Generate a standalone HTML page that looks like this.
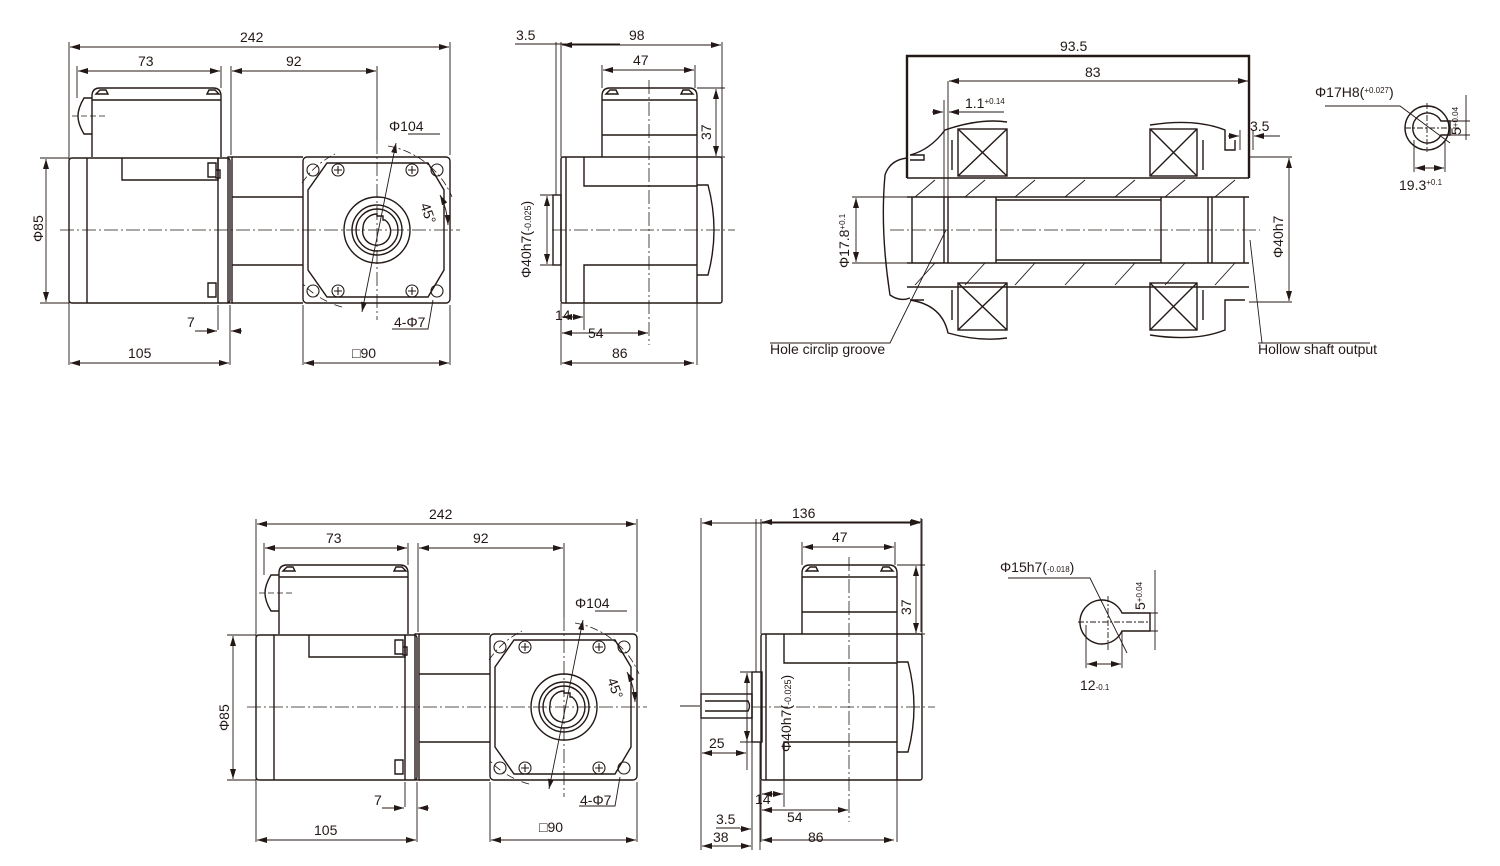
<!DOCTYPE html>
<html><head><meta charset="utf-8"><style>
html,body{margin:0;padding:0;background:#fff;}
svg{display:block;font-family:"Liberation Sans",sans-serif;}
text{font-size:14px;fill:#231815;}
</style></head><body>
<svg width="1500" height="866" viewBox="0 0 1500 866" xmlns="http://www.w3.org/2000/svg">
<defs>
<marker id="a" viewBox="0 0 10 6" refX="10" refY="3" markerWidth="10" markerHeight="6" orient="auto-start-reverse" markerUnits="userSpaceOnUse"><path d="M0,0L10,3L0,6z" fill="#231815"/></marker>
<g id="side" fill="none" stroke="#231815" stroke-width="1.4">
  <path d="M92,157V96Q92,88 100,88H213Q221,88 221,96V157"/>
  <line x1="92" y1="100" x2="221" y2="100"/>
  <path d="M96,94l4,-4h6l2,4zM207,94l2,-4h6l4,4z"/>
  <path d="M92,98h-8q-6,10 -6,18q0,8 6,18h8"/>
  <rect x="69" y="158" width="161" height="145" rx="3"/>
  <line x1="87" y1="158" x2="87" y2="303"/>
  <path d="M122,158v22h96v-22"/>
  <path d="M208,163h8v14h-8zM216,170h4v8h-4zM208,283h8v14h-8z"/>
  <line x1="218" y1="158" x2="218" y2="303"/>
  <rect x="228" y="157" width="4" height="146"/>
  <path d="M232,157H303M232,303H303M232,197H303M232,265H303"/>
  <rect x="303" y="157" width="147" height="146" rx="4"/>
  <path d="M327,163H428L444,190V270L428,297H327L308,270V190Z"/>
  <circle cx="377" cy="230" r="33"/><circle cx="377" cy="230" r="25"/><circle cx="377" cy="230" r="21"/>
  <path d="M363,228a14,14 0 1 0 22,-8h-2v-4h-6v-2a14,14 0 0 0 -14,14z"/>
  <g stroke-width="1.1">
  <circle cx="313" cy="170" r="6"/><circle cx="313" cy="291" r="6"/><circle cx="437" cy="170" r="6"/><circle cx="437" cy="291" r="6"/>
  <circle cx="338" cy="170" r="6"/><circle cx="338" cy="291" r="6"/><circle cx="412" cy="170" r="6"/><circle cx="412" cy="291" r="6"/>
  <path d="M334,170h8M338,166v8M334,291h8M338,287v8M408,170h8M412,166v8M408,291h8M412,287v8"/>
  </g>
  <path d="M362,312L396,143" stroke-width="0.9" marker-start="url(#a)" marker-end="url(#a)"/>
  <path d="M388,146A85,85 0 0 1 452,197M342,307A85,85 0 0 1 302,283M302,183A85,85 0 0 1 335,154" stroke-dasharray="8,3,2,3" stroke-width="0.8"/>
  <path d="M448,225A70,70 0 0 0 440,195" stroke-width="0.9" marker-start="url(#a)" marker-end="url(#a)"/>
  <line x1="60" y1="230" x2="460" y2="230" stroke-dasharray="14,3,2,3" stroke-width="0.8"/>
  <line x1="377" y1="140" x2="377" y2="320" stroke-dasharray="14,3,2,3" stroke-width="0.8"/>
  <line x1="72" y1="116" x2="105" y2="116" stroke-dasharray="6,3" stroke-width="0.8"/>
  <g stroke-width="0.9">
  <path d="M69,42V365M450,42V155M77,66V98M221,66V88M231,66V155M377,66V140M303,305V365M450,305V365M230,305V365M218,305V330"/>
  <path d="M40,158H69M40,303H69M408,134H440M392,329H428L433,300"/>
  <line x1="70" y1="47" x2="449" y2="47" marker-start="url(#a)" marker-end="url(#a)"/>
  <line x1="78" y1="71" x2="220" y2="71" marker-start="url(#a)" marker-end="url(#a)"/>
  <line x1="232" y1="71" x2="376" y2="71" marker-start="url(#a)" marker-end="url(#a)"/>
  <line x1="46" y1="159" x2="46" y2="302" marker-start="url(#a)" marker-end="url(#a)"/>
  <line x1="70" y1="363" x2="229" y2="363" marker-start="url(#a)" marker-end="url(#a)"/>
  <line x1="304" y1="363" x2="449" y2="363" marker-start="url(#a)" marker-end="url(#a)"/>
  <line x1="195" y1="331" x2="217" y2="331" marker-end="url(#a)"/>
  <line x1="242" y1="331" x2="231" y2="331" marker-end="url(#a)"/>
  </g>
</g>
<g id="front" fill="none" stroke="#231815" stroke-width="1.4">
  <path d="M602,157V96Q602,88 610,88H689Q697,88 697,96V157"/>
  <line x1="602" y1="100" x2="697" y2="100"/><line x1="602" y1="135" x2="697" y2="135"/>
  <path d="M606,94l4,-4h6l2,4zM681,94l2,-4h6l4,4z"/>
  <rect x="561" y="157" width="161" height="146" rx="2"/>
  <line x1="566" y1="157" x2="566" y2="303"/>
  <path d="M584,157V186H697V157M584,303V265H697V303M697,157V303"/>
  <path d="M697,185H708Q720,230 708,275H697"/>
  <line x1="552" y1="230" x2="735" y2="230" stroke-dasharray="14,3,2,3" stroke-width="0.8"/>
  <line x1="649" y1="80" x2="649" y2="345" stroke-dasharray="14,3,2,3" stroke-width="0.8"/>
  <g stroke-width="0.9">
  <path d="M602,65V88M695,65V88M697,88H725M697,157H725M722,42V157M556,42V195M561,42V157M561,303V365M584,303V330M697,303V365M540,195H561M540,265H561"/>
  <line x1="562" y1="45" x2="721" y2="45" marker-start="url(#a)" marker-end="url(#a)"/>
  <line x1="603" y1="70" x2="694" y2="70" marker-start="url(#a)" marker-end="url(#a)"/>
  <line x1="716" y1="89" x2="716" y2="156" marker-start="url(#a)" marker-end="url(#a)"/>
  <line x1="547" y1="196" x2="547" y2="264" marker-start="url(#a)" marker-end="url(#a)"/>
  <line x1="562" y1="333" x2="648" y2="333" marker-start="url(#a)" marker-end="url(#a)"/>
  <line x1="562" y1="363" x2="694" y2="363" marker-start="url(#a)" marker-end="url(#a)"/>
  <line x1="562" y1="317" x2="583" y2="317" marker-start="url(#a)" marker-end="url(#a)"/>
  </g>
</g>
</defs>

<use href="#side"/>
<rect x="553" y="195" width="8" height="70" fill="none" stroke="#231815" stroke-width="1.4"/>
<line x1="515" y1="44" x2="620" y2="44" stroke="#231815" stroke-width="0.9"/>
<use href="#front"/>
<text x="240" y="42">242</text><text x="138" y="66">73</text><text x="286" y="66">92</text>
<text x="389" y="131">Φ104</text><text x="394" y="327">4-Φ7</text><text x="187" y="327">7</text>
<text x="128" y="358">105</text><text x="352" y="358">□90</text>
<text transform="translate(43,242) rotate(-90)">Φ85</text>
<text transform="translate(420,205) rotate(70)">45°</text>
<text x="516" y="40">3.5</text><text x="629" y="40">98</text><text x="633" y="65">47</text>
<text transform="translate(711,140) rotate(-90)">37</text>
<text transform="translate(531,278) rotate(-90)">Φ40h7(<tspan font-size="9">-0.025</tspan>)</text>
<text x="555" y="320">14</text><text x="588" y="338">54</text><text x="612" y="358">86</text>

<g fill="none" stroke="#231815" stroke-width="1.4">
  <path d="M907,178V56H1249V178" stroke-width="2.4"/>
  <path d="M907,178H1249M907,197H1249M907,263H1249M907,287H1249"/>
  <path d="M912,197V263M944,197V263M948,197V263M996,197V263M1161,197V263M1208,197V263M1212,197V263M1244,197V263"/>
  <path d="M996,200H1161M996,260H1161"/>
  <rect x="958" y="129" width="49" height="47"/><path d="M958,129L1007,176M1007,129L958,176"/>
  <rect x="1150" y="129" width="47" height="47"/><path d="M1150,129L1197,176M1197,129L1150,176"/>
  <rect x="958" y="283" width="49" height="47"/><path d="M958,283L1007,330M1007,283L958,330"/>
  <rect x="1150" y="283" width="47" height="47"/><path d="M1150,283L1197,330M1197,283L1150,330"/>
  <path d="M910,155H924V160H910M910,300H924M1007,122Q980,118 945,130Q930,150 910,155M1007,338Q980,342 948,333Q942,305 910,300"/>
  <path d="M907,158Q890,160 885,175Q880,230 890,295Q900,302 910,298"/>
  <path d="M1150,125Q1195,118 1225,130V150H1235V140M1150,335Q1195,342 1225,330V300H1245"/>
  <path d="M952,140V170M1203,140V170M952,290V320M1203,290V320"/>
  <g stroke-width="0.9">
    <path d="M915,197L935,180M965,197L985,180M1015,197L1035,180M1065,197L1085,180M1115,197L1135,180M1165,197L1185,180M1215,197L1235,180"/>
    <path d="M915,285L935,263M965,285L985,263M1015,285L1035,263M1065,285L1085,263M1115,285L1135,263M1165,285L1185,263M1215,285L1235,263"/>
  <line x1="890" y1="230" x2="1260" y2="230" stroke-dasharray="14,3,2,3" stroke-width="0.8"/>
  <path d="M948,81V200M944,100V200M1249,81V56M1253,130V150M1240,130V150M852,197H907M852,263H907M1249,157H1292M1249,302H1292"/>
  <line x1="949" y1="81" x2="1248" y2="81" marker-start="url(#a)" marker-end="url(#a)"/>
  <line x1="932" y1="112" x2="943" y2="112" marker-end="url(#a)"/>
  <line x1="1004" y1="112" x2="949" y2="112" marker-end="url(#a)"/>
  <line x1="1228" y1="136" x2="1239" y2="136" marker-end="url(#a)"/>
  <line x1="1280" y1="136" x2="1254" y2="136" marker-end="url(#a)"/>
  <line x1="856" y1="198" x2="856" y2="262" marker-start="url(#a)" marker-end="url(#a)"/>
  <line x1="1289" y1="158" x2="1289" y2="301" marker-start="url(#a)" marker-end="url(#a)"/>
  <path d="M770,343H890L946,230M1258,343H1370M1262,343L1250,240"/>
  </g>
</g>
<text x="1060" y="51">93.5</text><text x="1085" y="77">83</text>
<text x="965" y="108">1.1<tspan font-size="8" dy="-4">+0.14</tspan></text>
<text x="1250" y="131">3.5</text>
<text transform="translate(849,268) rotate(-90)">Φ17.8<tspan font-size="8" dy="-4">+0.1</tspan></text>
<text transform="translate(1283,258) rotate(-90)">Φ40h7</text>
<text x="770" y="354">Hole circlip groove</text><text x="1258" y="354">Hollow shaft output</text>

<g fill="none" stroke="#231815" stroke-width="1.4">
  <circle cx="1427" cy="128" r="22"/>
  <path d="M1441,121a15,15 0 1 0 0,14h9v-14z"/>
  <g stroke-width="0.9">
  <path d="M1405,128H1460M1427,103V152" stroke-dasharray="6,2,2,2"/>
  <path d="M1325,106H1400L1450,143M1414,140V172M1445,140V172M1450,121H1470M1450,135H1470M1466,95V140"/>
  <line x1="1415" y1="168" x2="1444" y2="168" marker-start="url(#a)" marker-end="url(#a)"/>
  </g>
</g>
<text x="1315" y="97">Φ17H8(<tspan font-size="8" dy="-4">+0.027</tspan><tspan dy="4">)</tspan></text>
<text x="1399" y="190">19.3<tspan font-size="8" dy="-5">+0.1</tspan></text>
<text transform="translate(1461,135) rotate(-90)" font-size="11">5<tspan font-size="8" dy="-3">+0.04</tspan></text>

<use href="#side" transform="translate(187,477)"/>
<text x="429" y="519">242</text><text x="326" y="543">73</text><text x="473" y="543">92</text>
<text x="575" y="608">Φ104</text><text x="580" y="805">4-Φ7</text><text x="374" y="805">7</text>
<text x="314" y="835">105</text><text x="539" y="832">□90</text>
<text transform="translate(229,731) rotate(-90)">Φ85</text>
<text transform="translate(607,680) rotate(70)">45°</text>

<use href="#front" transform="translate(200,477)"/>
<g fill="none" stroke="#231815" stroke-width="1.4">
  <rect x="752" y="672" width="10" height="70"/>
  <rect x="701" y="694" width="51" height="24"/>
  <path d="M705,701H748q3,5 0,10H705"/>
  <g stroke-width="0.9">
  <path d="M701,518V850M921,518V632M747,720V770M752,742V850M760,742V850M680,706H700"/>
  <line x1="702" y1="523" x2="920" y2="523" marker-start="url(#a)" marker-end="url(#a)"/>
  <line x1="702" y1="753" x2="746" y2="753" marker-start="url(#a)" marker-end="url(#a)"/>
  <line x1="702" y1="846" x2="751" y2="846" marker-start="url(#a)" marker-end="url(#a)"/>
  <line x1="740" y1="829" x2="751" y2="829" marker-end="url(#a)"/>
  <path d="M716,828H740"/>
  </g>
</g>
<text x="792" y="518">136</text><text x="832" y="542">47</text>
<text transform="translate(911,615) rotate(-90)">37</text>
<text transform="translate(791,752) rotate(-90)">Φ40h7(<tspan font-size="9">-0.025</tspan>)</text>
<text x="709" y="748">25</text><text x="716" y="824">3.5</text><text x="713" y="842">38</text>
<text x="755" y="804">14</text><text x="787" y="822">54</text><text x="808" y="842">86</text>

<g fill="none" stroke="#231815" stroke-width="1.4">
  <path d="M1122,613A22,22 0 1 0 1122,631H1150V613Z"/>
  <g stroke-width="0.9">
  <path d="M1078,622H1150M1108,596V650" stroke-dasharray="6,2,2,2"/>
  <path d="M1008,578H1090L1127,653M1086,625V668M1122,631V668M1150,613H1158M1150,631H1158M1155,570V650"/>
  <line x1="1087" y1="664" x2="1121" y2="664" marker-start="url(#a)" marker-end="url(#a)"/>
  </g>
</g>
<text x="1000" y="572">Φ15h7(<tspan font-size="8">-0.018</tspan>)</text>
<text x="1080" y="690">12<tspan font-size="8">-0.1</tspan></text>
<text transform="translate(1145,610) rotate(-90)" font-size="12">5<tspan font-size="8" dy="-3">+0.04</tspan></text>
</svg>
</body></html>
